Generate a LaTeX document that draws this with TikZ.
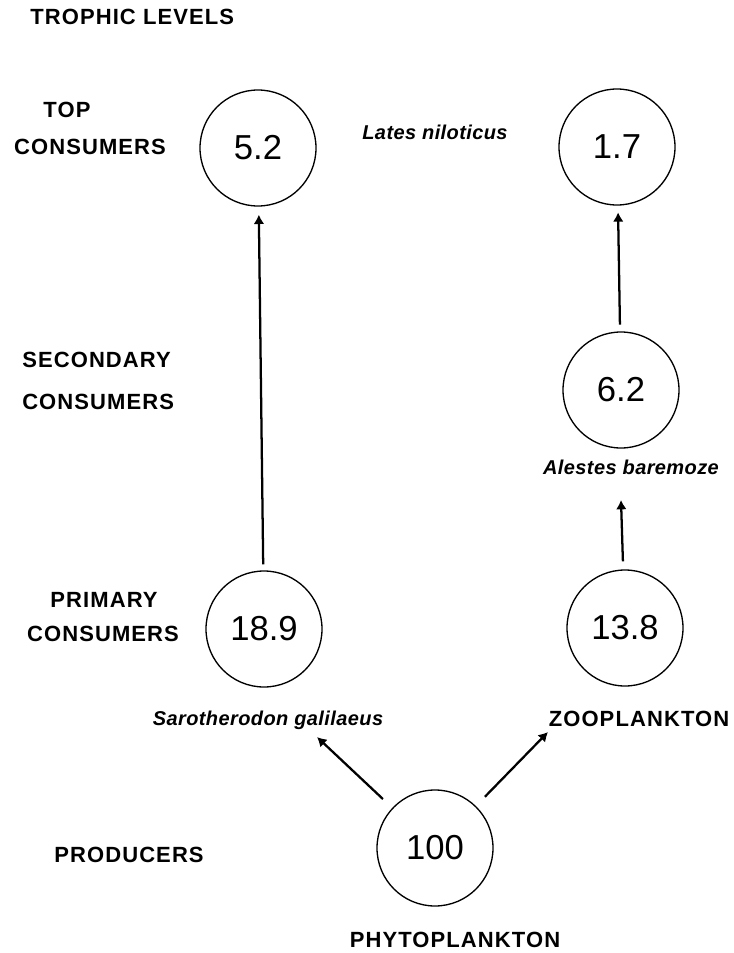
\documentclass[tikz,border=0pt]{standalone}
\usepackage{fontspec}
\setmainfont{Liberation Sans}
\newfontfamily\levelfont[LetterSpace=5]{Liberation Sans}
\newfontfamily\speciesfont[LetterSpace=2]{Liberation Sans}
\usetikzlibrary{arrows.meta}

\begin{document}
\begin{tikzpicture}[x=0.75pt,y=-0.75pt,>={Latex[length=7pt,width=8pt]},every node/.append style={align=center,inner sep=0pt},
    pool/.style={draw, circle, line width=1pt, minimum size=87pt, font=\fontsize{26}{30}\selectfont},
    level/.style={font=\levelfont\bfseries\fontsize{16.5}{18}\selectfont},
    species/.style={font=\speciesfont\bfseries\itshape\fontsize{15}{16}\selectfont},
    flow/.style={->, line width=1.7pt}]
    \useasboundingbox (0,0) rectangle (733,953);

    % trophic levels on the left
    \node [level, anchor=west] (title) at (30,17) {TROPHIC LEVELS};
    \node [level] (topA) at (67,110) {TOP};
    \node [level] (topB) at (90,147) {CONSUMERS};
    \node [level, anchor=west] (secA) at (22,360) {SECONDARY};
    \node [level, anchor=west] (secB) at (22,402) {CONSUMERS};
    \node [level] (primA) at (104,600) {PRIMARY};
    \node [level] (primB) at (103,634) {CONSUMERS};
    \node [level] (prod) at (129,855) {PRODUCERS};

    % energy pools
    \node [pool] (T1) at (258,148) {5.2};
    \node [pool] (T2) at (617,147) {1.7};
    \node [pool] (S2) at (621,390) {6.2};
    \node [pool] (P1) at (264,629) {18.9};
    \node [pool] (P2) at (625,628) {13.8};
    \node [pool] (Pr) at (435,848) {100};

    \node [species] (lates) at (435,132) {Lates niloticus};
    \node [species] (alestes) at (631,467) {Alestes baremoze};
    \node [species] (saro) at (268,720) {Sarotherodon galilaeus};
    \node [level] (zoo) at (639,719) {ZOOPLANKTON};
    \node [level] (phyto) at (455,940) {PHYTOPLANKTON};

    \coordinate (abTip) at (621,500);
    \coordinate (sgTip) at (317,737);
    \coordinate (zpTip) at (548,732);

    \path[flow] (P1) edge[shorten <=4.5pt, shorten >=6pt] (T1)
                (S2) edge[shorten <=5pt, shorten >=5pt] (T2)
                (P2) edge[shorten <=6pt] (abTip)
                (Pr) edge[shorten <=9.6pt] (sgTip)
                (Pr) edge[shorten <=9.6pt] (zpTip);
\end{tikzpicture}
\end{document}
